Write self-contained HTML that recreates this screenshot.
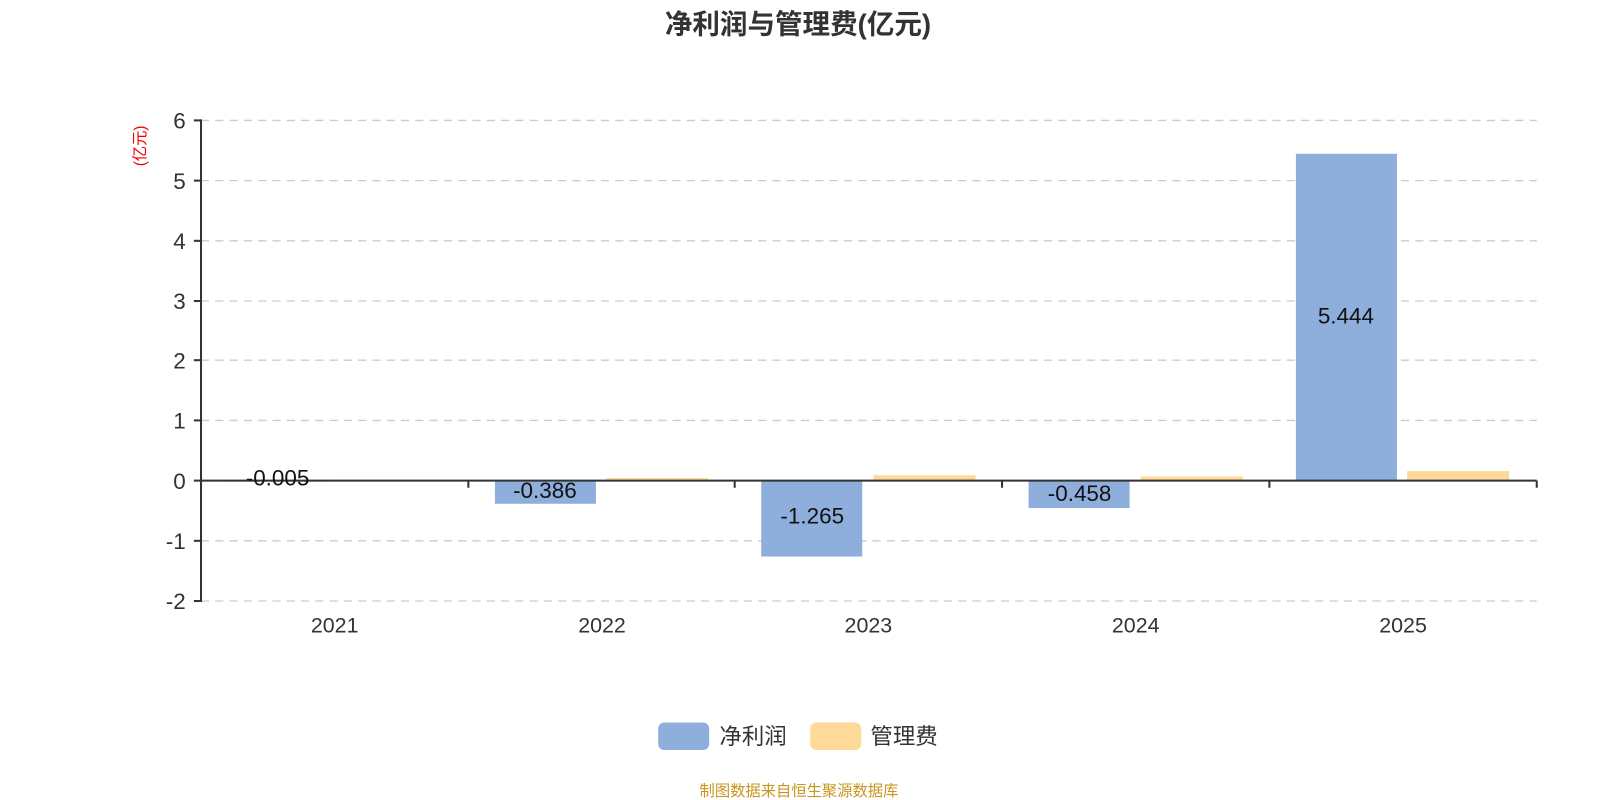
<!DOCTYPE html>
<html><head><meta charset="utf-8"><style>
body{margin:0;background:#fff;}
svg{display:block;font-family:"Liberation Sans","Noto Sans CJK SC",sans-serif;}
</style></head><body>
<svg width="1600" height="800" viewBox="0 0 1568 784">
<text x="782" y="33" text-anchor="middle" font-size="27" font-weight="bold" fill="#333">净利润与管理费(亿元)</text>
<text transform="translate(142,143) rotate(-90)" text-anchor="middle" font-size="15" fill="#e00">(亿元)</text>
<g stroke="#ccc" stroke-width="1.3" stroke-dasharray="8,6">
<line x1="197" y1="118" x2="1506" y2="118"/><line x1="197" y1="177" x2="1506" y2="177"/>
<line x1="197" y1="236" x2="1506" y2="236"/><line x1="197" y1="295" x2="1506" y2="295"/>
<line x1="197" y1="353" x2="1506" y2="353"/><line x1="197" y1="412" x2="1506" y2="412"/>
<line x1="197" y1="530" x2="1506" y2="530"/><line x1="197" y1="589" x2="1506" y2="589"/>
</g>
<g font-size="22" fill="#333" text-anchor="end">
<text x="182" y="126">6</text><text x="182" y="185">5</text><text x="182" y="244">4</text>
<text x="182" y="303">3</text><text x="182" y="361">2</text><text x="182" y="420">1</text>
<text x="182" y="479">0</text><text x="182" y="538">-1</text><text x="182" y="597">-2</text>
</g>
<g fill="#8eaedb">
<rect x="223" y="471" width="99" height="1"/>
<rect x="485" y="471" width="99" height="22.7"/>
<rect x="746" y="471" width="99" height="74.4"/>
<rect x="1008" y="471" width="99" height="26.9"/>
<rect x="1270" y="150.7" width="99" height="320.3"/>
</g>
<g fill="#ffd998">
<rect x="333" y="470" width="100" height="1"/>
<rect x="594" y="468.5" width="100" height="2.5"/>
<rect x="856" y="465.7" width="100" height="5.3"/>
<rect x="1118" y="467" width="100" height="4"/>
<rect x="1379" y="461.6" width="100" height="9.4"/>
</g>
<g stroke="#333" stroke-width="2" fill="none">
<line x1="197" y1="117" x2="197" y2="590"/>
<line x1="190" y1="118" x2="197" y2="118"/><line x1="190" y1="177" x2="197" y2="177"/>
<line x1="190" y1="236" x2="197" y2="236"/><line x1="190" y1="295" x2="197" y2="295"/>
<line x1="190" y1="353" x2="197" y2="353"/><line x1="190" y1="412" x2="197" y2="412"/>
<line x1="190" y1="471" x2="197" y2="471"/><line x1="190" y1="530" x2="197" y2="530"/>
<line x1="190" y1="589" x2="197" y2="589"/>
<line x1="197" y1="471" x2="1506" y2="471"/>
<line x1="459" y1="471" x2="459" y2="478"/><line x1="720" y1="471" x2="720" y2="478"/>
<line x1="982" y1="471" x2="982" y2="478"/><line x1="1244" y1="471" x2="1244" y2="478"/>
<line x1="1506" y1="471" x2="1506" y2="478"/>
</g>
<g font-size="22" fill="#111" text-anchor="middle">
<text x="272" y="476">-0.005</text>
<text x="534" y="488">-0.386</text>
<text x="796" y="513">-1.265</text>
<text x="1058" y="491">-0.458</text>
<text x="1319" y="317">5.444</text>
</g>
<g font-size="21" fill="#333" text-anchor="middle">
<text x="328" y="620">2021</text><text x="590" y="620">2022</text><text x="851" y="620">2023</text>
<text x="1113" y="620">2024</text><text x="1375" y="620">2025</text>
</g>
<rect x="645" y="708" width="50" height="27" rx="6" fill="#8eaedb"/>
<text x="705" y="729" font-size="22" fill="#333">净利润</text>
<rect x="794" y="708" width="50" height="27" rx="6" fill="#ffd998"/>
<text x="853" y="729" font-size="22" fill="#333">管理费</text>
<text x="783" y="780" text-anchor="middle" font-size="15" fill="#c8961e">制图数据来自恒生聚源数据库</text>
</svg>
</body></html>
